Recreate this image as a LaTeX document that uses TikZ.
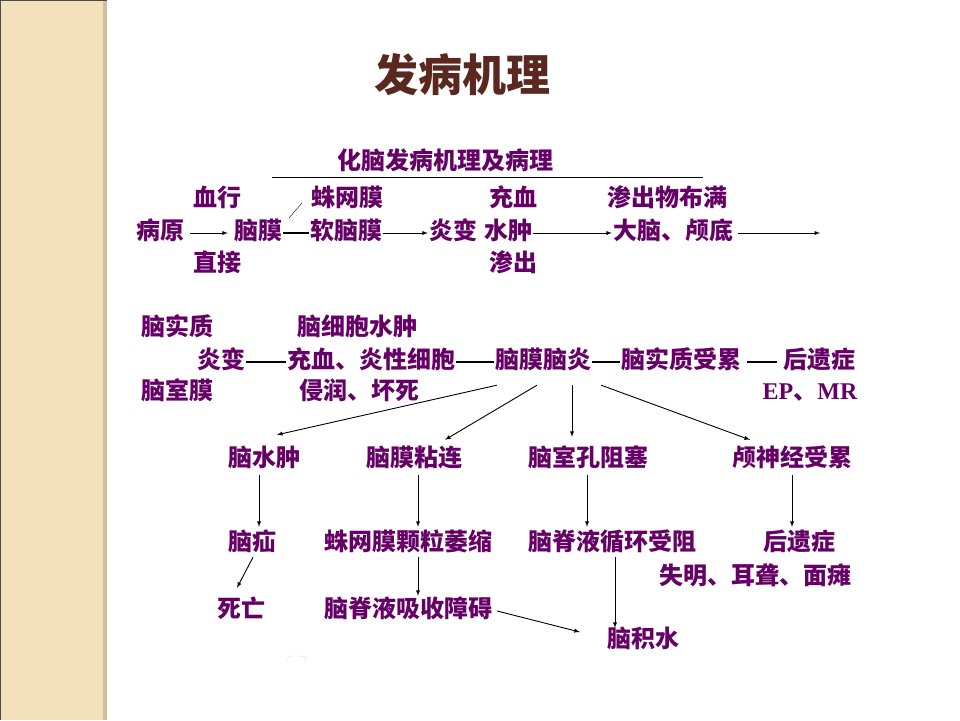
\documentclass[tikz,border=0pt]{standalone}
\usepackage{fontspec}
\usepackage{tikz}
\usetikzlibrary{arrows}
\newfontfamily\cjk{Noto Sans CJK SC}
\newfontfamily\latinb{Liberation Serif Bold}
\definecolor{zi}{RGB}{102,0,102}
\definecolor{zong}{RGB}{90,40,30}
\definecolor{mi}{RGB}{242,225,186}
\definecolor{mibian}{RGB}{205,190,160}
\tikzset{wz/.style={text=zi, font=\cjk\bfseries\fontsize{24}{26}\selectfont, inner sep=1pt, text height=16pt, text depth=4pt},
  jt/.style={-latex, line width=.9pt},
  hx/.style={line width=1.3pt}}

\begin{document}
\begin{tikzpicture}[x=1pt,y=-1pt]
\useasboundingbox (0,0) rectangle (960,720);
\fill[mi] (0,0) rectangle (103,720);
\fill[mibian] (103,0) rectangle (107,720);
\draw[black!70, line width=1.5pt] (0,0)--(107,0);
\draw[black!70] (0,0)--(0,720);

\node[text=zong, font=\cjk\bfseries\fontsize{44}{48}\selectfont] (biaoti) at (462,75) {发病机理};
\node[wz] (fubiaoti) at (445,163) {化脑发病机理及病理};
\draw (272,177)--(703,177);

% first line
\node[wz] (xuexing) at (217,200) {血行};
\node[wz] (zhuwangmo) at (347,200) {蛛网膜};
\node[wz] (chongxue) at (513,200) {充血};
\node[wz] (shenchuwu) at (667,200) {渗出物布满};
\node[wz] (bingyuan) at (160,233) {病原};
\node[wz] (naomo) at (258,233) {脑膜};
\node[wz] (ruannaomo) at (346,233) {软脑膜};
\node[wz] (yanbian) at (453,233) {炎变};
\node[wz] (shuizhong) at (508,233) {水肿};
\node[wz] (danao) at (673,233) {大脑、颅底};
\coordinate (mo) at (820,233);
\node[wz] (zhijie) at (217,265) {直接};
\node[wz] (shenchu) at (513,265) {渗出};
\draw[jt, shorten <=5pt, shorten >=5pt] (bingyuan) -- (naomo);
\draw[hx] (naomo) -- (ruannaomo);
\draw[jt] (ruannaomo) -- (yanbian);
\draw[jt] (shuizhong) -- (danao);
\draw[jt, shorten <=4pt] (danao) -- (mo);
\draw[thin] ([xshift=6pt,yshift=4pt]naomo.north east) -- ([xshift=-8pt,yshift=8pt]zhuwangmo.south west);

% second line
\node[wz] (naoshizhi) at (177,329) {脑实质};
\node[wz] (naoxibao) at (357,329) {脑细胞水肿};
\node[wz] (yanbian2) at (221,362) {炎变};
\node[wz] (chongxue2) at (371,362) {充血、炎性细胞};
\node[wz] (naomonaoyan) at (543,362) {脑膜脑炎};
\node[wz] (shouzhi) at (681,362) {脑实质受累};
\node[wz] (houyi) at (819,362) {后遗症};
\node[wz] (naoshimo) at (177,393) {脑室膜};
\node[wz] (jinrun) at (359,393) {侵润、坏死};
\node[wz] (epmr) at (810,393) {{\latinb EP}、{\latinb MR}};
\draw[hx] (yanbian2) -- (chongxue2);
\draw[hx] (chongxue2) -- (naomonaoyan);
\draw[hx] (naomonaoyan) -- (shouzhi);
\draw[hx, shorten <=5pt, shorten >=5pt] (shouzhi) -- (houyi);

\node[wz] (naoshuizhong) at (264,460) {脑水肿};
\node[wz] (zhanlian) at (414,460) {脑膜粘连};
\node[wz] (zusai) at (588,460) {脑室孔阻塞};
\node[wz] (lushenjing) at (792,460) {颅神经受累};
\draw[jt] ([xshift=3pt,yshift=-12pt]naomonaoyan.south west) -- ([xshift=13pt,yshift=14pt]naoshuizhong.north);
\draw[jt] ([xshift=-6pt,yshift=-12pt]naomonaoyan.south) -- ([xshift=31pt,yshift=9pt]zhanlian.north);
\draw[jt] ([xshift=29pt,yshift=-12pt]naomonaoyan.south) -- ([xshift=-16pt,yshift=12pt]zusai.north);
\draw[jt] ([xshift=9pt,yshift=-12pt]naomonaoyan.south east) -- ([xshift=-42pt,yshift=9pt]lushenjing.north);

\node[wz] (naoshan) at (252,544) {脑疝};
\node[wz] (weisuo) at (408,544) {蛛网膜颗粒萎缩};
\node[wz] (shouzu) at (612,544) {脑脊液循环受阻};
\node[wz] (houyi2) at (799,544) {后遗症};
\node[wz] (shiming) at (755,578) {失明、耳聋、面瘫};
\draw[jt] ([xshift=-5pt,yshift=-4pt]naoshuizhong.south) -- ([xshift=-5pt,yshift=6pt]naoshuizhong.south |- naoshan.north);
\draw[jt] ([xshift=4pt,yshift=-4pt]zhanlian.south) -- ([xshift=4pt,yshift=6pt]zhanlian.south |- weisuo.north);
\draw[jt] ([xshift=-1pt,yshift=-4pt]zusai.south) -- ([xshift=-1pt,yshift=6pt]zusai.south |- shouzu.north);
\draw[jt] ([yshift=-4pt]lushenjing.south) -- ([yshift=6pt]lushenjing.south |- houyi2.north);

\node[wz] (siwang) at (241,611) {死亡};
\node[wz] (xishou) at (408,611) {脑脊液吸收障碍};
\node[wz] (jishui) at (643,641) {脑积水};
\draw[jt] ([xshift=1pt,yshift=-2pt]naoshan.south) -- ([xshift=-4pt,yshift=12pt]siwang.north);
\draw[jt] ([xshift=10pt,yshift=-2pt]weisuo.south) -- ([xshift=10pt,yshift=4pt]weisuo.south |- xishou.north);
\draw[jt] ([xshift=3pt,yshift=-2pt]shouzu.south) -- ([xshift=3pt,yshift=2pt]shouzu.south |- jishui.north);
\draw[jt] ([xshift=4pt]xishou.east) -- ([xshift=-26pt,yshift=9pt]jishui.west);

\draw[gray!30, rounded corners=4pt] (287,663)--(287,656)--(306,656)--(306,663);
\end{tikzpicture}
\end{document}
